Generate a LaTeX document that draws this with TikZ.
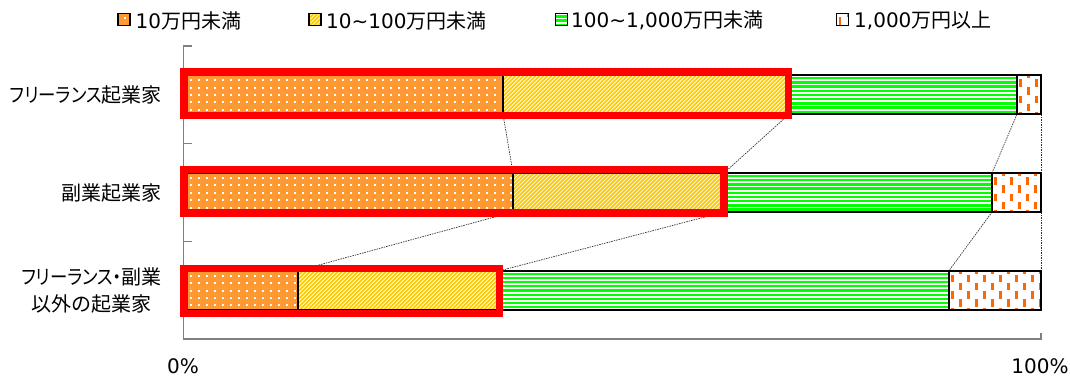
\documentclass[tikz,border=0pt]{standalone}
\usepackage{fontspec}
\usepackage{graphicx}
\setmainfont{DejaVu Sans}
\newfontfamily\cjk{Noto Sans CJK JP}
\newfontfamily\cjkp[RawFeature=+palt]{Noto Sans CJK JP}
\definecolor{segAc}{HTML}{FF9933}
\definecolor{segBc}{HTML}{FFCC00}
\definecolor{segCc}{HTML}{00FF00}
\definecolor{segDc}{HTML}{FF6600}
\definecolor{redc}{HTML}{FF0000}
\definecolor{axisc}{HTML}{808080}
\newcommand\bigfont{\fontsize{20}{24}\selectfont}
\newcommand\kana[1]{\scalebox{0.87}[1]{#1}}
\tikzset{
  segline/.style={draw=black, line width=1.8pt},
  dotmark/.style={fill=white},
  stripemark/.style={draw=segBc, line width=1.8pt},
  hlinemark/.style={fill=segCc},
  dashmark/.style={fill=segDc},
  conn/.style={draw=black!80, line width=0.7pt, densely dashed, dash pattern=on 1.5pt off 1pt},
  redbox/.style={draw=redc, line width=7.5pt},
  axisline/.style={draw=axisc, line width=1.2pt},
  legtext/.style={anchor=west, inner sep=0pt, font=\bigfont},
  cattext/.style={anchor=east, inner sep=0pt, align=center, font=\bigfont\cjkp},
  pcttext/.style={inner sep=0pt, anchor=base, font=\bigfont}
}
% #1 x-left, #2 y-top, #3 x-right, #4 y-bottom
\newcommand\segdots[4]{%
  \fill[segAc] (#1,#2) rectangle (#3,#4);
  \begin{scope}
    \clip (#1,#2) rectangle (#3,#4);
    \pgfmathsetmacro\pxa{#1+6}\pgfmathsetmacro\pxb{#1+14}%
    \pgfmathsetmacro\pya{#2+4}\pgfmathsetmacro\pyb{#2+11.4}%
    \foreach \x in {\pxa,\pxb,...,#3}{\foreach \y in {\pya,\pyb,...,#4}{\path[dotmark] (\x,\y) rectangle ++(2,2);}}
  \end{scope}
  \path[segline] (#1,#2) rectangle (#3,#4);}
\newcommand\segstripes[4]{%
  \fill[white] (#1,#2) rectangle (#3,#4);
  \begin{scope}
    \clip (#1,#2) rectangle (#3,#4);
    \pgfmathsetmacro\ph{#4-#2}%
    \pgfmathsetmacro\pxa{#1-\ph-4}\pgfmathsetmacro\pxb{#1-\ph}%
    \foreach \x in {\pxa,\pxb,...,#3}{\path[stripemark] (\x,#4+1) -- ++(\ph+2,-\ph-2);}
  \end{scope}
  \path[segline] (#1,#2) rectangle (#3,#4);}
\newcommand\seghlines[4]{%
  \fill[white] (#1,#2) rectangle (#3,#4);
  \begin{scope}
    \clip (#1,#2) rectangle (#3,#4);
    \pgfmathsetmacro\pya{#2+1.8}\pgfmathsetmacro\pyb{#2+6}%
    \foreach \y in {\pya,\pyb,...,#4}{\path[hlinemark] (#1,\y) rectangle (#3,\y+2.3);}
  \end{scope}
  \path[segline] (#1,#2) rectangle (#3,#4);}
\newcommand\segdashes[4]{%
  \fill[white] (#1,#2) rectangle (#3,#4);
  \begin{scope}
    \clip (#1,#2) rectangle (#3,#4);
    \pgfmathsetmacro\pxa{#1+2.2}\pgfmathsetmacro\pxb{#1+18.2}%
    \pgfmathsetmacro\pxc{#1+10.2}\pgfmathsetmacro\pxd{#1+26.2}%
    \pgfmathsetmacro\pya{#2+4}\pgfmathsetmacro\pyb{#2+20.5}%
    \pgfmathsetmacro\pyc{#2-4.3}\pgfmathsetmacro\pyd{#2+12.2}%
    \foreach \x in {\pxa,\pxb,...,#3}{\foreach \y in {\pya,\pyb,...,#4}{\path[dashmark] (\x,\y) rectangle ++(2.3,7.5);}}
    \foreach \x in {\pxc,\pxd,...,#3}{\foreach \y in {\pyc,\pyd,...,#4}{\path[dashmark] (\x,\y) rectangle ++(2.3,7.5);}}
  \end{scope}
  \path[segline] (#1,#2) rectangle (#3,#4);}
\begin{document}
\begin{tikzpicture}[x=1pt,y=-1pt]
\useasboundingbox (0,0) rectangle (1070,377);
% bar coordinates
\foreach \i/\t/\b/\xa/\xb/\xc in {1/75.3/114.3/503/789/1017, 2/173/212/513/724/992, 3/270.7/309.7/298/500/949}{
  \coordinate (r\i-0t) at (184,\t);   \coordinate (r\i-0b) at (184,\b);
  \coordinate (r\i-1t) at (\xa,\t);   \coordinate (r\i-1b) at (\xa,\b);
  \coordinate (r\i-2t) at (\xb,\t);   \coordinate (r\i-2b) at (\xb,\b);
  \coordinate (r\i-3t) at (\xc,\t);   \coordinate (r\i-3b) at (\xc,\b);
  \coordinate (r\i-4t) at (1041,\t);  \coordinate (r\i-4b) at (1041,\b);
}
% axes
\coordinate (ax-top) at (183.5,46);
\coordinate (ax-org) at (183.5,339);
\coordinate (ax-end) at (1041,339);
\coordinate (tk1) at (183.5,143.6); \coordinate (tk1e) at (191.5,143.6);
\coordinate (tk2) at (183.5,241.3); \coordinate (tk2e) at (191.5,241.3);
\coordinate (tk0e) at (191.5,46);
\coordinate (tk3e) at (1041,333);
\draw[axisline] (tk0e) -- (ax-top) -- (ax-org) -- (ax-end) -- (tk3e);
\draw[axisline] (tk1) -- (tk1e);
\draw[axisline] (tk2) -- (tk2e);
% connectors
\foreach \k in {1,2,3,4}{
  \draw[conn] (r1-\k b) -- (r2-\k t);
  \draw[conn] (r2-\k b) -- (r3-\k t);
}
% segments
\segdots{184}{75.3}{503}{114.3}
\segstripes{503}{75.3}{789}{114.3}
\seghlines{789}{75.3}{1017}{114.3}
\segdashes{1017}{75.3}{1041}{114.3}
\segdots{184}{173}{513}{212}
\segstripes{513}{173}{724}{212}
\seghlines{724}{173}{992}{212}
\segdashes{992}{173}{1041}{212}
\segdots{184}{270.7}{298}{309.7}
\segstripes{298}{270.7}{500}{309.7}
\seghlines{500}{270.7}{949}{309.7}
\segdashes{949}{270.7}{1041}{309.7}
% red boxes
\coordinate (rb1a) at (184,72);    \coordinate (rb1b) at (788.7,115.5);
\coordinate (rb2a) at (184,169.5); \coordinate (rb2b) at (724,213);
\coordinate (rb3a) at (184,268.3); \coordinate (rb3b) at (499.5,313.5);
\draw[redbox] (rb1a) rectangle (rb1b);
\draw[redbox] (rb2a) rectangle (rb2b);
\draw[redbox] (rb3a) rectangle (rb3b);
% category labels
\node[cattext] (c1) at (162,95) {\kana{フリーランス}起業家};
\node[cattext] (c2) at (162,192.5) {副業起業家};
\node[cattext] (c3) at (162,290.5) {\kana{フリーランス・}副業\\[3pt]以外の起業家};
% percent labels
\node[pcttext] (p0) at (183,373) {0\%};
\node[pcttext] (p100) at (1040,373) {100\%};
% legend boxes
\segdots{118}{13.5}{130}{25.5}
\segstripes{309}{13.5}{321}{25.5}
\seghlines{555.5}{13.5}{567.5}{25.5}
\segdashes{836.5}{13.5}{848.5}{25.5}
% legend texts
\node[legtext] (ltA) at (135.5,20.5) {10{\cjk 万円未満}};
\node[legtext] (ltB) at (326,20.5) {10\textasciitilde100{\cjk 万円未満}};
\node[legtext] (ltC) at (571,20.5) {100\textasciitilde1,000{\cjk 万円未満}};
\node[legtext] (ltD) at (854,20.5) {1,000{\cjk 万円以上}};
\end{tikzpicture}
\end{document}
